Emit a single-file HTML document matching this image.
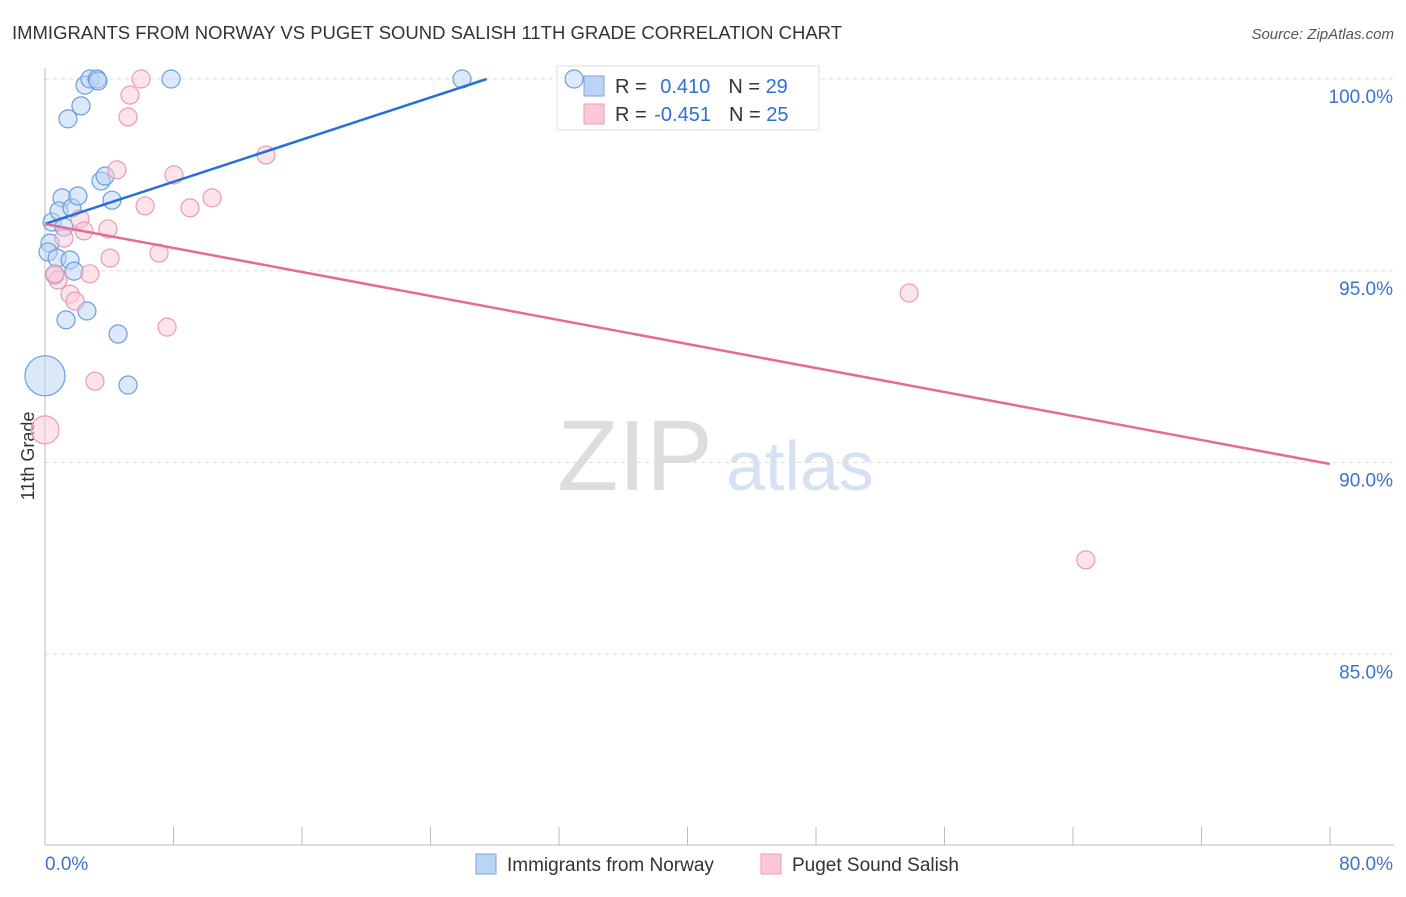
<!DOCTYPE html>
<html><head><meta charset="utf-8"><style>
body{margin:0;background:#fff;font-family:"Liberation Sans",sans-serif}
svg text{font-family:"Liberation Sans",sans-serif}
</style></head><body>
<svg id="c" width="1406" height="892" xmlns="http://www.w3.org/2000/svg">
<text x="12" y="39" font-size="18" fill="#333" textLength="830" lengthAdjust="spacingAndGlyphs">IMMIGRANTS FROM NORWAY VS PUGET SOUND SALISH 11TH GRADE CORRELATION CHART</text>
<text x="1394" y="39" font-size="15" fill="#555" text-anchor="end" font-style="italic">Source: ZipAtlas.com</text>
<text x="34" y="456" font-size="18" fill="#333" transform="rotate(-90 34 456)" text-anchor="middle">11th Grade</text>
<text x="635" y="490" font-size="100" fill="#ddd" font-family="Liberation Serif" text-anchor="middle">ZIP</text>
<text x="800" y="490" font-size="70" fill="#d4e2f4" text-anchor="middle">atlas</text>
<g id="grid"></g>
<g>
<rect x="557" y="66" width="262" height="64" fill="#fff" stroke="#ddd"/>
<rect x="584" y="76" width="20" height="20" fill="#b9d4f5" stroke="#7aa6e0"/>
<rect x="584" y="104" width="20" height="20" fill="#fcc8d6" stroke="#eb9ab2"/>
<text x="615" y="93" font-size="20" fill="#333">R = <tspan fill="#2f6fd0" dx="8">0.410</tspan><tspan dx="18" fill="#333">N = </tspan><tspan fill="#2f6fd0">29</tspan></text>
<text x="615" y="121" font-size="20" fill="#333">R = <tspan fill="#2f6fd0" dx="2">-0.451</tspan><tspan dx="18" fill="#333">N = </tspan><tspan fill="#2f6fd0">25</tspan></text>
</g>
<g id="marks"></g>
<g>
<rect x="476" y="854" width="20" height="20" fill="#b9d4f5" stroke="#7aa6e0"/>
<text x="507" y="871" font-size="19" fill="#333">Immigrants from Norway</text>
<rect x="761" y="854" width="20" height="20" fill="#fcc8d6" stroke="#eb9ab2"/>
<text x="792" y="871" font-size="19" fill="#333">Puget Sound Salish</text>
</g>
</svg>
<script>
const yTicks=[100,95,90,85];
const yTickLabels=["100.0%","95.0%","90.0%","85.0%"];
const xTickLabels=["0.0%","80.0%"];
const blueX=[0.44,1.06,0.87,1.68,2.05,1.18,0.31,0.19,0.75,1.56,1.81,0.62,1.31,2.61,4.55,5.17,2.49,2.80,3.24,3.30,2.24,1.43,3.49,3.74,4.17,7.85,25.96,32.94,0];
const blueY=[96.27,96.90,96.56,96.64,96.95,96.14,95.72,95.49,95.33,95.28,94.99,94.89,93.72,93.95,93.35,92.02,99.84,100,100,99.95,99.30,98.96,97.34,97.47,96.84,100,100,100,92.26];
const blueR=[9,9,9,9,9,9,9,9,9,9,9,9,9,9,9,9,9,9,9,9,9,9,9,9,9,9,9,9,20];
const pinkX=[5.98,5.29,5.17,13.76,4.48,8.03,10.40,6.23,9.03,2.18,3.92,2.43,1.18,7.10,4.05,2.80,0.81,1.56,1.87,7.60,3.11,0,53.8,64.8,0.62];
const pinkY=[100,99.58,99.01,98.02,97.63,97.50,96.90,96.69,96.64,96.35,96.09,96.04,95.85,95.46,95.33,94.92,94.76,94.39,94.21,93.53,92.12,90.85,94.42,87.46,94.92];
const pinkR=[9,9,9,9,9,9,9,9,9,9,9,9,9,9,9,9,9,9,9,9,9,14,9,9,9];
const blueLine=[[0,96.22],[27.5,100]];
const pinkLine=[[0,96.22],[80,89.96]];
const NS="http://www.w3.org/2000/svg";
const X=v=>45+v/80*1285, Y=v=>79+(100-v)*38.35;
function mk(t,a,p){const e=document.createElementNS(NS,t);for(const k in a)e.setAttribute(k,a[k]);p.appendChild(e);return e;}
const g=document.getElementById('grid'),m=document.getElementById('marks');
yTicks.forEach((t,i)=>{
 const l=mk('line',{x1:45,x2:1394,y1:Y(t),y2:Y(t),stroke:'#ddd','stroke-dasharray':'4,4'},g);
 
 
 const tx=mk('text',{x:1393,y:Y(t)+24,'font-size':19,fill:'#3a72d0','text-anchor':'end'},g);
 tx.textContent=yTickLabels[i];
 
 
});
const ax=mk('line',{x1:45,x2:45,y1:68,y2:845,stroke:'#bbb'},g);


const bx=mk('line',{x1:45,x2:1394,y1:845,y2:845,stroke:'#bbb'},g);


for(let i=0;i<=10;i++){const t=mk('line',{x1:X(i*8),x2:X(i*8),y1:827,y2:845,stroke:'#bbb'},g);
 
 }
[[0,45,'start'],[80,1393,'end']].forEach((d,i)=>{const t=mk('text',{x:d[1],y:870,'font-size':19,fill:'#3a72d0','text-anchor':d[2]},g);t.textContent=xTickLabels[i];
 
 });
function pts(xs,ys,rs,f,s,n){xs.forEach((x,i)=>{const c=mk('circle',{cx:X(x),cy:Y(ys[i]),r:rs[i],fill:f,'fill-opacity':0.5,stroke:s,'stroke-width':1.2},m);
 
 });}
pts(blueX,blueY,blueR,'#b9d4f5','#6a9ee0','norway-point');
pts(pinkX,pinkY,pinkR,'#fcc8d6','#eb9ab2','salish-point');
const l1=mk('line',{x1:X(blueLine[0][0]),y1:Y(blueLine[0][1]),x2:X(blueLine[1][0]),y2:Y(blueLine[1][1]),stroke:'#2870d8','stroke-width':2.5},m);


const l2=mk('line',{x1:X(pinkLine[0][0]),y1:Y(pinkLine[0][1]),x2:X(pinkLine[1][0]),y2:Y(pinkLine[1][1]),stroke:'#e36b96','stroke-width':2.5},m);


</script>
</body></html>
